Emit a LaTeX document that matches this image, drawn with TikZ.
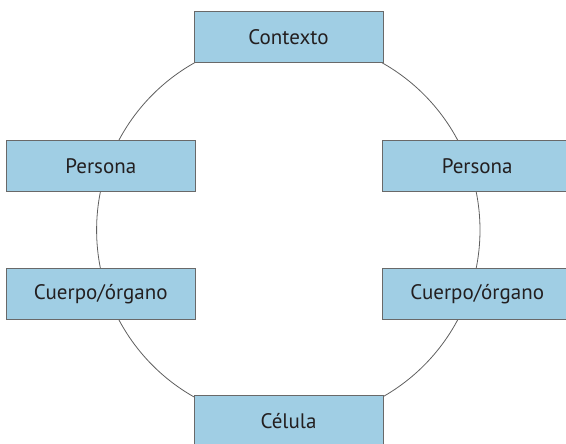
\documentclass[tikz,border=0pt]{standalone}
\usepackage{fontspec}
\setmainfont{PT Sans}
\definecolor{boxblue}{RGB}{160,206,228}
\definecolor{boxline}{RGB}{105,105,105}
\definecolor{ringline}{RGB}{95,95,95}
\definecolor{labeltext}{RGB}{35,31,32}
\tikzset{
  levelbox/.style={draw=boxline, line width=1pt, fill=boxblue,
    minimum width=189pt, minimum height=51pt, inner sep=0pt,
    font=\fontsize{21}{24}\selectfont, text=labeltext}
}
\begin{document}
\begin{tikzpicture}[x=1pt,y=-1pt]
    \clip (0,0) rectangle (566,444);
    \path[use as bounding box] (0,0) rectangle (566,444);

    % Ring
    \coordinate (centre) at (288.3,230);
    \draw[ringline, line width=0.8pt] (centre) circle[radius=191.7pt];

    % Top and bottom
    \node[levelbox] (contexto) at (288.5,37.5) {Contexto};
    \node[levelbox] (celula) at (288.5,421) {Célula};

    % Left side
    \node[levelbox] (personaL) at (100.8,166) {Persona};
    \node[levelbox] (cuerpoL) at (100.8,294) {Cuerpo/órgano};

    % Right side
    \node[levelbox] (personaR) at (477.2,166) {Persona};
    \node[levelbox] (cuerpoR) at (477.2,294) {Cuerpo/órgano};
  \end{tikzpicture}
\end{document}
